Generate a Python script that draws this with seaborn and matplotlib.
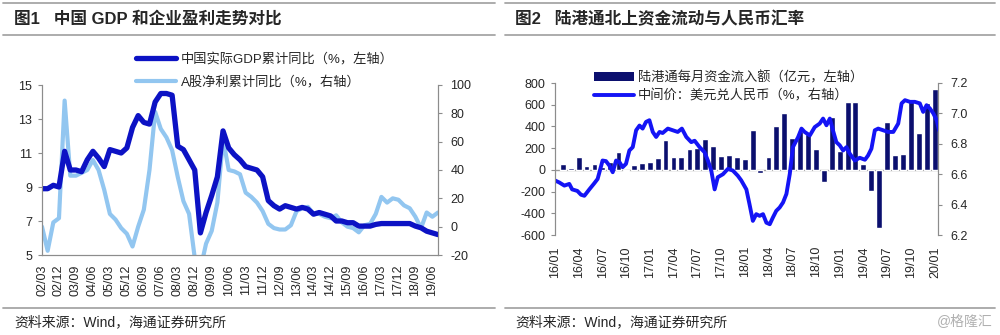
import numpy as np
import pandas as pd
import matplotlib
matplotlib.use("Agg")
import matplotlib.pyplot as plt
import matplotlib.dates as mdates
from matplotlib.lines import Line2D
from matplotlib.patches import Patch
import seaborn as sns

sns.set_theme(style="white")
plt.rcParams["font.family"] = ["Liberation Sans", "Noto Sans CJK SC", "DejaVu Sans"]
plt.rcParams["axes.unicode_minus"] = False

# ---------------- Figure 1: GDP vs A-share earnings (quarterly) ----------------
quarters = pd.date_range("2002-03-31", "2019-09-30", freq="QE")
quarter_labels = list(quarters.strftime("%y/%m"))

gdp_cum_yoy = [
    8.9, 8.9, 9.1, 9.0,
    11.1, 10.0, 10.0, 9.9,
    10.6, 11.1, 10.7, 10.2,
    11.2, 11.1, 11.0, 11.3,
    12.5, 13.2, 12.8, 12.7,
    14.0, 14.5, 14.5, 14.4,
    11.4, 11.2, 10.6, 10.0,
    6.3, 7.5, 8.5, 9.6,
    12.3, 11.3, 10.9, 10.6,
    10.2, 10.1, 10.0, 9.6,
    8.2, 7.9, 7.7, 7.9,
    7.8, 7.7, 7.8, 7.7,
    7.4, 7.5, 7.4, 7.3,
    7.0, 7.0, 6.9, 6.9,
    6.7, 6.7, 6.7, 6.8,
    6.85, 6.85, 6.85, 6.85,
    6.85, 6.85, 6.7, 6.6,
    6.4, 6.3, 6.2,
]
ashare_profit_yoy = [
    0, -17, 3, 6,
    89, 36, 36, 38,
    40, 47, 40, 26,
    9, 5, -1, -5,
    -14, 0, 12, 40,
    81, 69, 63, 54,
    35, 18, 9, -22,
    -30, -12, -3, 17,
    62, 40, 39, 37,
    24, 21, 17, 11,
    2, -1, -2, -2,
    1, 11, 13, 14,
    9, 9, 7, 6,
    8, 3, 0, -1,
    -4, 1, 2, 9,
    21, 17, 20, 19,
    15, 13, 7, -1,
    10, 7, 10,
]
gdp_label = "中国实际GDP累计同比（%，左轴）"
profit_label = "A股净利累计同比（%，右轴）"

# ---------------- Figure 2: northbound flows and USD/CNY fixing ----------------
flow_months = pd.date_range("2016-01-31", "2019-12-31", freq="ME")
northbound_flow = [
    50, 20, 123, 35, 50, 25, 70, 160, -15, 45, 60, 75,
    112, 275, 122, 115, 192, 205, 285, 220, 132, 136, 120, 98,
    369, -30, 114, 400, 522, 293, 360, 330, 192, -112, 485, 174,
    625, 625, 55, -195, -540, 440, 133, 142, 648, 338, 615, 744,
]
fx_dates = [
    "2016-01-01", "2016-01-16", "2016-02-05", "2016-02-24", "2016-03-06", "2016-03-26",
    "2016-04-09", "2016-04-22", "2016-05-11", "2016-05-30", "2016-06-12", "2016-07-01",
    "2016-07-14", "2016-07-27", "2016-08-09", "2016-08-22", "2016-09-04", "2016-09-16",
    "2016-09-29", "2016-10-12", "2016-10-25", "2016-11-07", "2016-11-20", "2016-12-02",
    "2016-12-15", "2016-12-28", "2017-01-10", "2017-01-23", "2017-02-05", "2017-02-17",
    "2017-03-09", "2017-03-28", "2017-04-16", "2017-05-02", "2017-05-19", "2017-06-07",
    "2017-06-20", "2017-07-09", "2017-07-28", "2017-08-10", "2017-08-23", "2017-09-05",
    "2017-09-17", "2017-10-07", "2017-10-26", "2017-11-14", "2017-12-03", "2017-12-16",
    "2018-01-05", "2018-01-17", "2018-01-30", "2018-02-12", "2018-02-25", "2018-03-10",
    "2018-03-23", "2018-04-05", "2018-04-17", "2018-04-30", "2018-05-13", "2018-05-26",
    "2018-06-08", "2018-06-21", "2018-07-03", "2018-07-23", "2018-08-05", "2018-08-17",
    "2018-09-06", "2018-09-25", "2018-10-14", "2018-10-27", "2018-11-09", "2018-11-22",
    "2018-12-04", "2018-12-17", "2018-12-30", "2019-01-12", "2019-01-25", "2019-02-07",
    "2019-02-26", "2019-03-17", "2019-04-06", "2019-04-18", "2019-05-01", "2019-05-14",
    "2019-05-27", "2019-06-15", "2019-07-04", "2019-07-24", "2019-08-12", "2019-08-25",
    "2019-09-07", "2019-09-26", "2019-10-15", "2019-11-03", "2019-11-16", "2019-11-29",
    "2019-12-12", "2019-12-25", "2020-01-07", "2020-01-16",
]
usdcny_fixing = [
    6.558, 6.546, 6.525, 6.536, 6.500, 6.490,
    6.465, 6.458, 6.500, 6.540, 6.569, 6.690,
    6.686, 6.657, 6.613, 6.690, 6.679, 6.646,
    6.668, 6.756, 6.778, 6.889, 6.920, 6.900,
    6.944, 6.955, 6.878, 6.845, 6.878, 6.871,
    6.900, 6.889, 6.878, 6.900, 6.845, 6.811,
    6.820, 6.778, 6.745, 6.690, 6.624, 6.500,
    6.580, 6.600, 6.635, 6.624, 6.590, 6.560,
    6.500, 6.403, 6.293, 6.337, 6.326, 6.337,
    6.281, 6.271, 6.315, 6.359, 6.381, 6.414,
    6.470, 6.602, 6.778, 6.844, 6.900, 6.878,
    6.855, 6.910, 6.933, 6.966, 6.922, 6.966,
    6.889, 6.811, 6.790, 6.756, 6.778, 6.734,
    6.690, 6.708, 6.695, 6.723, 6.768, 6.889,
    6.900, 6.889, 6.878, 6.878, 6.933, 7.066,
    7.087, 7.076, 7.076, 7.066, 7.010, 7.054,
    7.032, 7.000, 6.955, 6.889,
]
flow_label = "陆港通每月资金流入额（亿元，左轴）"
fx_label = "中间价：美元兑人民币（%，右轴）"

# ---------------- styling ----------------
C_GDP = "#0c12c4"
C_PROFIT = "#92c6f0"
C_BAR = "#0b0f6e"
C_FX = "#1414f5"
C_SPINE = "#8c8c8c"
C_TEXT = "#262626"
C_RULE = "#a6a6a6"
FS_TICK = 9

W, H = 1000, 335
fig = plt.figure(figsize=(W / 100, H / 100), dpi=100)
fig.patch.set_facecolor("white")


def fx_(px):
    return px / W


def fy_(py):
    return 1 - py / H


def style_axis(ax, sides):
    for s in ["left", "right", "top", "bottom"]:
        ax.spines[s].set_visible(s in sides)
        ax.spines[s].set_color(C_SPINE)
        ax.spines[s].set_linewidth(0.8)
    ax.tick_params(axis="both", labelsize=FS_TICK, colors=C_TEXT,
                   length=3, width=0.8, direction="out")
    ax.tick_params(axis="both", color=C_SPINE)
    ax.grid(False)
    ax.set_xlabel("")
    ax.set_ylabel("")


# ----- left panel -----
ax1 = fig.add_axes([fx_(42), fy_(255), fx_(438) - fx_(42), (255 - 85) / H])
ax1b = ax1.twinx()
df1 = pd.DataFrame({"q": np.arange(len(quarter_labels)),
                    "gdp": gdp_cum_yoy, "profit": ashare_profit_yoy})
sns.lineplot(data=df1, x="q", y="profit", ax=ax1b, color=C_PROFIT, lw=3.0,
             legend=False)
sns.lineplot(data=df1, x="q", y="gdp", ax=ax1, color=C_GDP, lw=3.8,
             legend=False)
ax1.set_zorder(ax1b.get_zorder() + 1)
ax1.patch.set_visible(False)

ax1.set_xlim(0, len(quarter_labels) - 1)
ax1.set_ylim(5, 15)
ax1.set_yticks([5, 7, 9, 11, 13, 15])
ax1b.set_ylim(-20, 100)
ax1b.set_yticks([-20, 0, 20, 40, 60, 80, 100])
tick_pos = list(range(0, len(quarter_labels), 3))
ax1.set_xticks(tick_pos)
ax1.set_xticklabels([quarter_labels[i] for i in tick_pos], rotation=90)
style_axis(ax1, ["left", "bottom", "right"])
style_axis(ax1b, ["left", "bottom", "right"])
ax1.tick_params(axis="x", pad=4)
ax1.tick_params(axis="y", pad=4)
ax1b.tick_params(axis="y", pad=6)

fig.legend(handles=[Line2D([], [], color=C_GDP, lw=3.8),
                    Line2D([], [], color=C_PROFIT, lw=3.0)],
           labels=[gdp_label, profit_label],
           loc="upper left", bbox_to_anchor=(fx_(136), fy_(53)),
           bbox_transform=fig.transFigure, frameon=False, fontsize=9.5,
           handlelength=3.0, handletextpad=0.4, labelspacing=0.7,
           borderpad=0, borderaxespad=0, labelcolor=C_TEXT)

# ----- right panel -----
ax2 = fig.add_axes([fx_(555), fy_(235), fx_(938) - fx_(555), (235 - 83) / H])
ax2b = ax2.twinx()
dfb = pd.DataFrame({"d": mdates.date2num(flow_months), "v": northbound_flow})
sns.barplot(data=dfb, x="d", y="v", ax=ax2, native_scale=True, color=C_BAR,
            saturation=1, width=0.8, errorbar=None, legend=False)
dfl = pd.DataFrame({"d": mdates.date2num(pd.to_datetime(fx_dates)),
                    "v": usdcny_fixing})
sns.lineplot(data=dfl, x="d", y="v", ax=ax2b, color=C_FX, lw=2.8,
             legend=False)
ax2.axhline(0, color="#9a9a9a", lw=1.0, zorder=0.5)

ax2.set_xlim(mdates.date2num(pd.Timestamp("2015-12-31")),
             mdates.date2num(pd.Timestamp("2020-01-12")))
ax2.set_ylim(-600, 800)
ax2.set_yticks(np.arange(-600, 801, 200))
ax2b.set_ylim(6.2, 7.2)
ax2b.set_yticks([6.2, 6.4, 6.6, 6.8, 7.0, 7.2])
ax2b.yaxis.set_major_formatter(matplotlib.ticker.FormatStrFormatter("%.1f"))
xt = pd.date_range("2016-01-01", "2020-01-01", freq="QS")
ax2.set_xticks(mdates.date2num(xt))
ax2.set_xticklabels(list(xt.strftime("%y/%m")), rotation=90)
style_axis(ax2, ["left", "right"])
style_axis(ax2b, ["left", "right"])
ax2.tick_params(axis="x", length=0, pad=8)
ax2.tick_params(axis="y", pad=4)
ax2b.tick_params(axis="y", pad=6)

fig.legend(handles=[Patch(facecolor=C_BAR, edgecolor="none"),
                    Line2D([], [], color=C_FX, lw=2.8)],
           labels=[flow_label, fx_label],
           loc="upper left", bbox_to_anchor=(fx_(594), fy_(71)),
           bbox_transform=fig.transFigure, frameon=False, fontsize=9.5,
           handlelength=3.0, handleheight=0.7, handletextpad=0.3,
           labelspacing=0.4, borderpad=0, borderaxespad=0,
           labelcolor=C_TEXT)

# ----- headers and footers -----
for x0, x1 in [(3, 495), (505, 995)]:
    for y in (3, 35, 308):
        fig.add_artist(Line2D([fx_(x0), fx_(x1)], [fy_(y), fy_(y)],
                              transform=fig.transFigure, color=C_RULE, lw=1.3))

fig.text(fx_(14), fy_(19), "图1   中国 GDP 和企业盈利走势对比", fontsize=12,
         fontweight="bold", color=C_TEXT, va="center", ha="left")
fig.text(fx_(515), fy_(19), "图2   陆港通北上资金流动与人民币汇率", fontsize=12,
         fontweight="bold", color=C_TEXT, va="center", ha="left")
fig.text(fx_(14), fy_(322), "资料来源：Wind，海通证券研究所", fontsize=10,
         color=C_TEXT, va="center", ha="left")
fig.text(fx_(515), fy_(322), "资料来源：Wind，海通证券研究所", fontsize=10,
         color=C_TEXT, va="center", ha="left")
fig.text(fx_(993), fy_(322), "@格隆汇", fontsize=10, color="#b0b0b0",
         va="center", ha="right")

fig.savefig("out.png", dpi=100, facecolor="white")
